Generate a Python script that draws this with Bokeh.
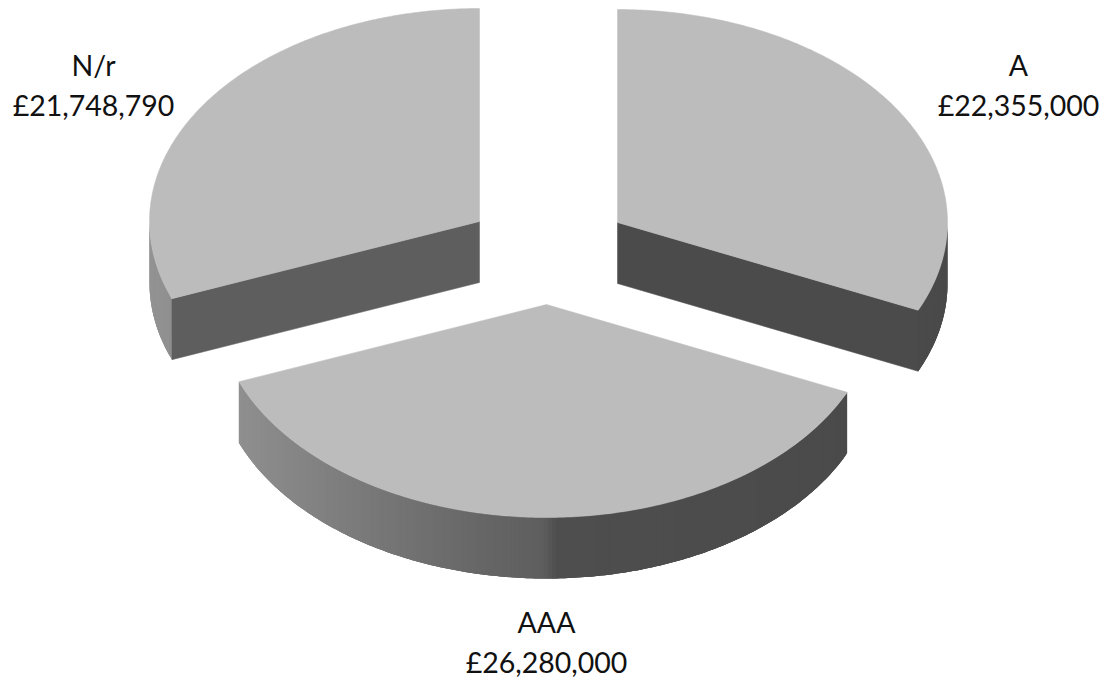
import numpy as np
from bokeh.plotting import figure, ColumnDataSource
from bokeh.models import Range1d
from bokeh.core.properties import value
from bokeh.embed import file_html
from bokeh.resources import INLINE

categories = ["A", "AAA", "N/r"]
amounts = [22355000, 26280000, 21748790]
amount_labels = ["£22,355,000", "£26,280,000", "£21,748,790"]

# layout (page pixels)
apex_x = [617, 546, 479]
apex_y = [222, 304, 221]
label_x = [1018, 546, 93]
label_y = [64, 621]
RX, RY, DEPTH = 330, 213, 61
TOP = "#bcbcbc"
CUT = {"A": "#4b4b4b", "N/r": "#5e5e5e"}
# wall shade along the wedge's horizontal position: offset from apex / RX -> grey
shade_pos = [-1.00, -0.67, -0.42, -0.19, -0.01, 0.03, 1.00]
shade_val = [0x93, 0x80, 0x72, 0x66, 0x5e, 0x4e, 0x4a]

W, H = 1111, 678
p = figure(width=W, height=H, output_backend="svg", toolbar_location=None,
           x_range=Range1d(0, W), y_range=Range1d(H, 0),
           x_axis_location=None, y_axis_location=None, min_border=0,
           background_fill_color="white", border_fill_color="white")
p.grid.visible = False
p.outline_line_color = None

total = sum(amounts)
edges = np.concatenate([[0], np.cumsum(amounts)]) / total * 2 * np.pi


def pt(ax, ay, t):
    return ax + RX * np.sin(t), ay - RY * np.cos(t)


def grey(v):
    v = int(round(v))
    return f"#{v:02x}{v:02x}{v:02x}"


for i, cat in enumerate(categories):
    a0, a1 = edges[i], edges[i + 1]
    ax, ay = apex_x[i], apex_y[i]

    # outer wall: only the front half of the rim faces the viewer
    w0, w1 = max(a0, np.pi / 2), min(a1, 3 * np.pi / 2)
    if w1 > w0:
        n = int((w1 - w0) * 80) + 2
        ts = np.linspace(w0, w1, n + 1)
        xs, ys, cols = [], [], []
        for k in range(n):
            # each strip overlaps the next ones; painting in order hides the seams
            seg = ts[k:min(k + 4, n + 1)]
            x, y = pt(ax, ay, seg)
            xs.append(list(x) + list(x[::-1]))
            ys.append(list(y) + list((y + DEPTH)[::-1]))
            cols.append(grey(np.interp(np.sin((ts[k] + ts[k + 1]) / 2), shade_pos, shade_val)))
        src = ColumnDataSource(dict(xs=xs, ys=ys, c=cols))
        p.patches("xs", "ys", source=src, fill_color="c", line_color=None)

    # cut faces that face the viewer
    if cat == "A":
        ex, ey = pt(ax, ay, a1)
    elif cat == "N/r":
        ex, ey = pt(ax, ay, a0)
    else:
        ex = None
    if ex is not None:
        p.patch([ax, ex, ex, ax], [ay, ey, ey + DEPTH, ay + DEPTH],
                fill_color=CUT[cat], line_color=CUT[cat], line_width=0.5)

    # top face
    ts = np.linspace(a0, a1, 200)
    tx, ty = pt(ax, ay, ts)
    p.patch(np.concatenate([[ax], tx]), np.concatenate([[ay], ty]),
            fill_color=TOP, line_color=TOP, line_width=0.5)

# labels
order_y = [label_y[0], label_y[1], label_y[0]]
font = value("Lato")
for i, cat in enumerate(categories):
    p.text([label_x[i]], [order_y[i]], text=[cat], text_font=font, text_font_size="28.5px",
           text_align="center", text_baseline="middle", text_color="#111111")
    p.text([label_x[i]], [order_y[i] + 40], text=[amount_labels[i]], text_font=font, text_font_size="28.5px",
           text_align="center", text_baseline="middle", text_color="#111111")

open("out.html", "w").write(file_html(p, INLINE))
